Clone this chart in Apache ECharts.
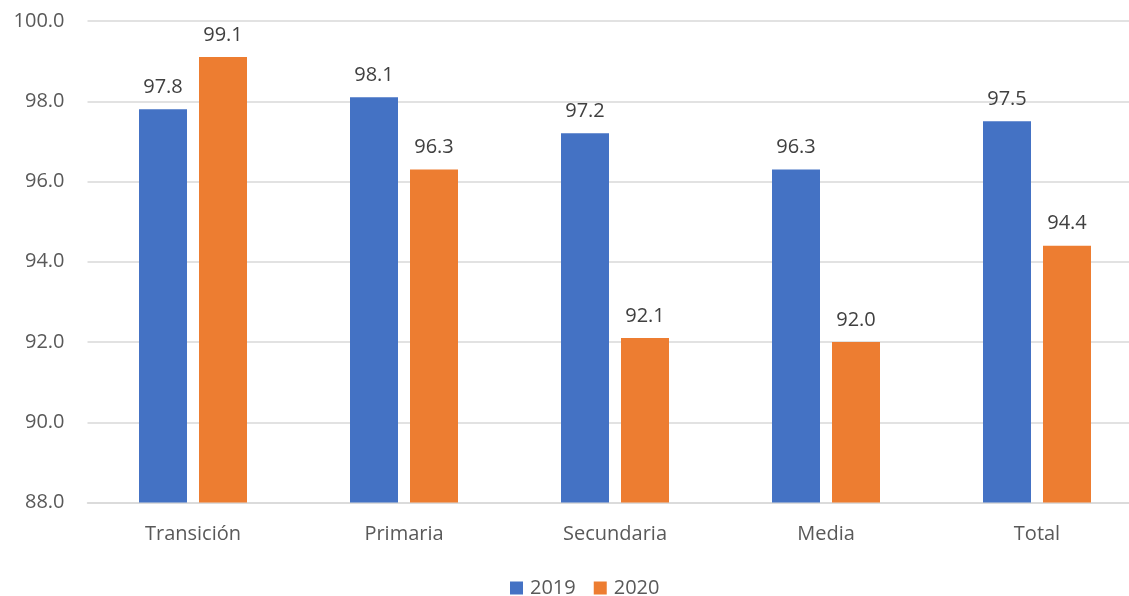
<!DOCTYPE html>
<html>
<head>
<meta charset="utf-8">
<style>
  html, body { margin: 0; padding: 0; background: #fff; }
  #chart { width: 1129px; height: 596px; }
</style>
<script src="https://cdn.jsdelivr.net/npm/echarts@6/dist/echarts.min.js"></script>
</head>
<body>
<div id="chart"></div>
<script>
const categories = ['Transición', 'Primaria', 'Secundaria', 'Media', 'Total'];
const values2019 = [97.8, 98.1, 97.2, 96.3, 97.5];
const values2020 = [99.1, 96.3, 92.1, 92.0, 94.4];
const seriesNames = ['2019', '2020'];

const FONT = '"Open Sans", "Noto Sans", sans-serif';

const chart = echarts.init(document.getElementById('chart'));

const labelStyle = {
  show: true,
  position: 'top',
  distance: 12,
  color: '#404040',
  fontSize: 20,
  fontFamily: FONT,
  formatter: p => p.value.toFixed(1)
};

chart.setOption({
  animation: false,
  textStyle: { fontFamily: FONT },
  // plot area runs past the right edge of the canvas
  grid: {
    left: 87.5, top: 21, width: 1055, height: 481.5,
    containLabel: false, outerBoundsMode: 'none'
  },
  legend: {
    data: seriesNames,
    top: 573,
    left: 505,
    itemWidth: 13,
    itemHeight: 13,
    itemGap: 18,
    icon: 'rect',
    textStyle: { color: '#595959', fontSize: 20, fontFamily: FONT, padding: [0, 0, 0, 2] }
  },
  xAxis: {
    type: 'category',
    data: categories,
    axisLine: { lineStyle: { color: '#D9D9D9', width: 1.5 } },
    axisTick: { show: false },
    axisLabel: { color: '#595959', fontSize: 20, fontFamily: FONT, margin: 22 }
  },
  yAxis: {
    type: 'value',
    min: 88,
    max: 100,
    interval: 2,
    axisLine: { show: false },
    axisTick: { show: false },
    splitLine: { lineStyle: { color: '#D9D9D9', width: 1.5 } },
    axisLabel: {
      color: '#595959', fontSize: 20, fontFamily: FONT, margin: 23,
      formatter: v => v.toFixed(1)
    }
  },
  series: [
    {
      name: seriesNames[0],
      type: 'bar',
      data: values2019,
      barWidth: 48,
      barGap: '25%',
      itemStyle: { color: '#4472C4' },
      label: labelStyle
    },
    {
      name: seriesNames[1],
      type: 'bar',
      data: values2020,
      barWidth: 48,
      barGap: '25%',
      itemStyle: { color: '#ED7D31' },
      label: labelStyle
    }
  ]
});
</script>
</body>
</html>
